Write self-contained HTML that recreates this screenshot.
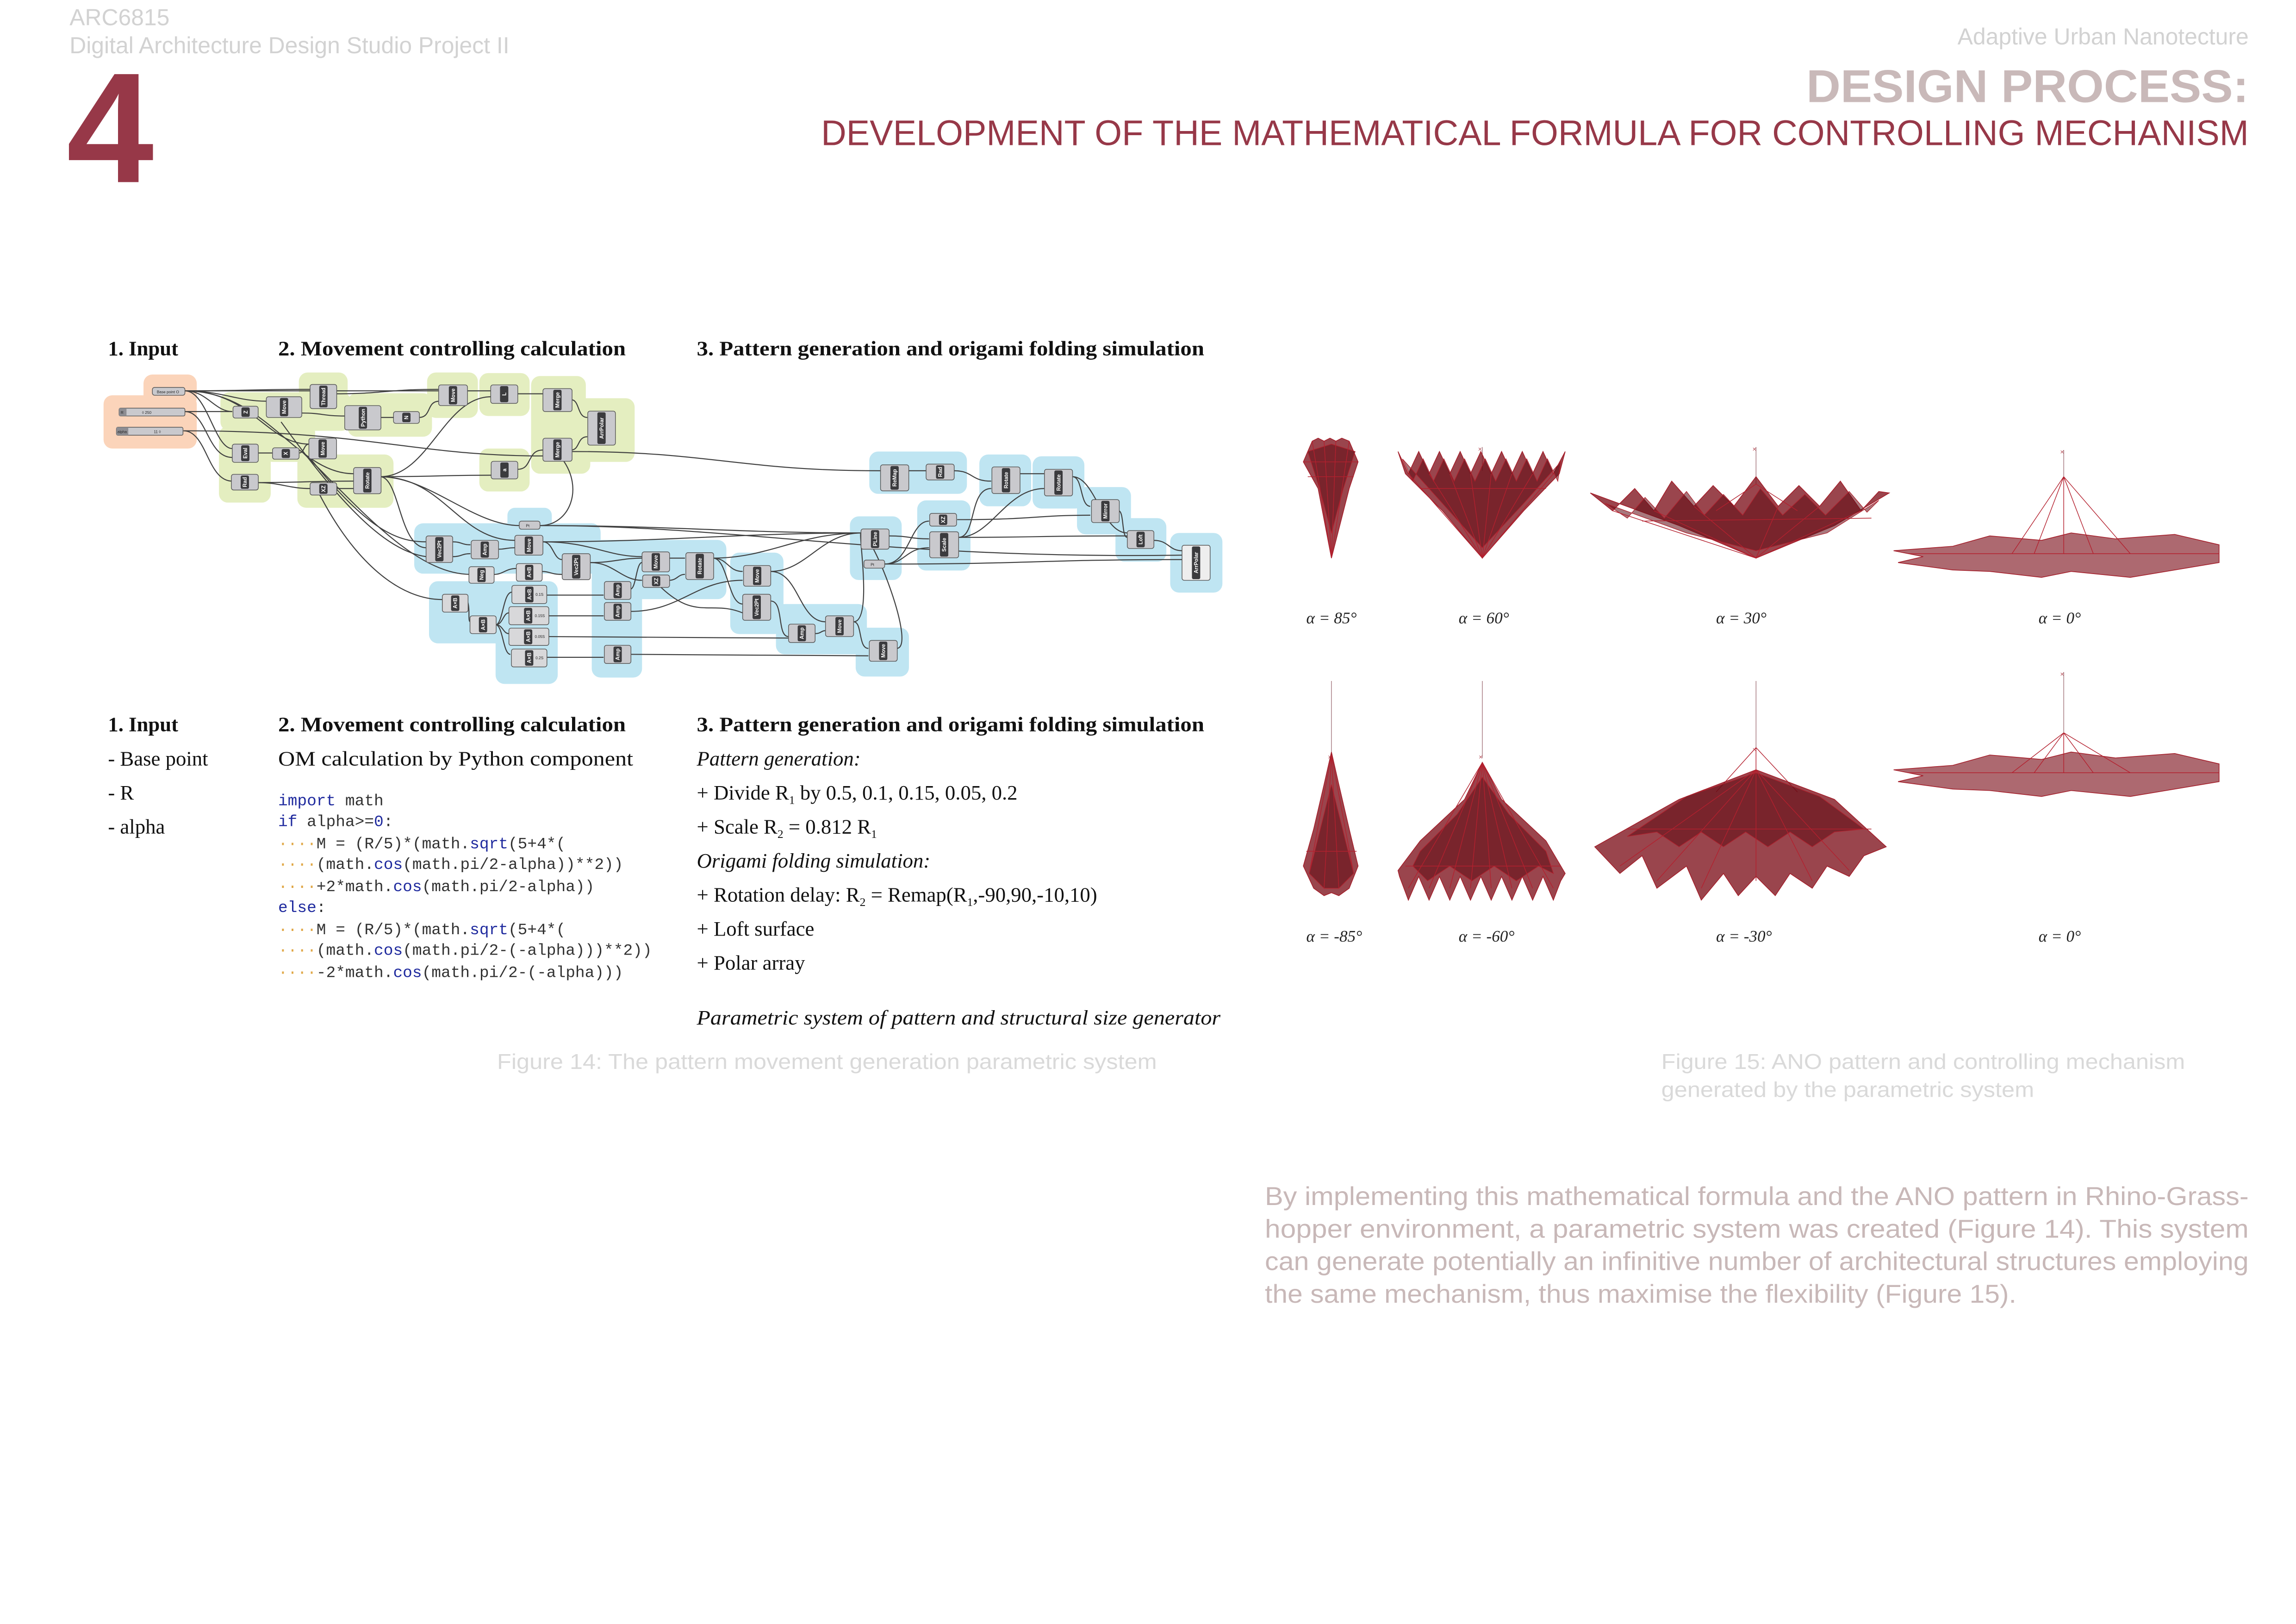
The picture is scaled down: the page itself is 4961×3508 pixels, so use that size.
<!DOCTYPE html>
<html><head><meta charset="utf-8"><style>
html,body{margin:0;padding:0;background:#fff;}
svg{display:block;}
.hd{font-family:"Liberation Sans",sans-serif;fill:#d2d2d2;font-size:15.6px;}
.sr{font-family:"Liberation Serif",serif;fill:#111;font-size:14px;}
.b{font-weight:bold;}
.it{font-style:italic;}
.cd{font-family:"Liberation Mono",monospace;font-size:10.8px;fill:#333;}
.kw{fill:#1f2a9e;}
.dt{fill:#e0a848;}
.cap{font-family:"Liberation Sans",sans-serif;fill:#d9d9d9;font-size:14.5px;}
.par{font-family:"Liberation Sans",sans-serif;fill:#c8b8b8;font-size:17.5px;}
.al{font-family:"Liberation Serif",serif;font-style:italic;font-size:11px;fill:#222;}
.gb{fill:#e4eec0;}
.bb{fill:#bfe5f2;}
.ob{fill:#fbd4ba;}
.n{fill:#c9c9cd;stroke:#555;stroke-width:.45;}
.s{fill:#3b3b3e;}
.nt{font-family:"Liberation Sans",sans-serif;font-size:3.6px;font-weight:bold;fill:#fff;text-anchor:middle;}
.pt{font-family:"Liberation Sans",sans-serif;font-size:2.6px;fill:#222;}
.w path{fill:none;stroke:#404040;stroke-width:.7;}
.rd{fill:#7e111b;fill-opacity:.78;stroke:#a41e2a;stroke-width:.5;}
.rd2{fill:#5e0a12;fill-opacity:.55;stroke:#b0202c;stroke-width:.4;}
.rl{stroke:#b3202e;stroke-width:.45;fill:none;}
.st{stroke:#8a5058;stroke-width:.35;}
</style></head><body>
<svg width="4961" height="3508" viewBox="0 0 1552 1097" preserveAspectRatio="none" xmlns="http://www.w3.org/2000/svg">
<defs><linearGradient id="ng" x1="0" y1="0" x2="0" y2="1"><stop offset="0" stop-color="#e2e2e5"/><stop offset="1" stop-color="#a9a9ae"/></linearGradient></defs>

<!-- header -->
<text class="hd" x="47" y="17">ARC6815</text>
<text class="hd" x="47" y="36">Digital Architecture Design Studio Project II</text>
<text x="45" y="123" style="font-family:'Liberation Sans',sans-serif;font-weight:bold;font-size:106px;fill:#973848">4</text>
<text class="hd" x="1520" y="30" text-anchor="end">Adaptive Urban Nanotecture</text>
<text x="1520" y="69" text-anchor="end" textLength="299" lengthAdjust="spacingAndGlyphs" style="font-family:'Liberation Sans',sans-serif;font-weight:bold;font-size:31px;fill:#c9b9b9">DESIGN PROCESS:</text>
<text x="1520" y="98" text-anchor="end" textLength="965" lengthAdjust="spacingAndGlyphs" style="font-family:'Liberation Sans',sans-serif;font-size:24px;fill:#973848">DEVELOPMENT OF THE MATHEMATICAL FORMULA FOR CONTROLLING MECHANISM</text>

<!-- section headers -->
<text class="sr b" x="73" y="240">1. Input</text>
<text class="sr b" x="188" y="240" textLength="235" lengthAdjust="spacingAndGlyphs">2. Movement controlling calculation</text>
<text class="sr b" x="471" y="240" textLength="343" lengthAdjust="spacingAndGlyphs">3. Pattern generation and origami folding simulation</text>

<!-- blobs -->
<g>
<rect class="ob" x="97" y="253" width="36" height="22" rx="6"/>
<rect class="ob" x="70" y="267" width="63" height="36" rx="6"/>
<rect class="gb" x="149" y="265" width="88" height="26" rx="6"/>
<rect class="gb" x="202" y="251.6" width="33" height="18" rx="6"/>
<rect class="gb" x="148" y="288" width="35" height="51.5" rx="6"/>
<rect class="gb" x="201" y="307" width="65" height="36" rx="6"/>
<rect class="gb" x="235" y="265.6" width="57" height="29.4" rx="6"/>
<rect class="gb" x="180" y="288" width="33" height="24" rx="4"/>
<rect class="gb" x="288.7" y="251.6" width="34.3" height="30.7" rx="6"/>
<rect class="gb" x="324" y="252" width="34" height="29" rx="6"/>
<rect class="gb" x="359" y="254" width="37" height="32.5" rx="6"/>
<rect class="gb" x="359" y="269" width="70" height="43" rx="6"/>
<rect class="gb" x="359" y="288" width="40" height="32" rx="6"/>
<rect class="gb" x="324" y="303" width="34" height="29" rx="6"/>
<rect class="bb" x="343" y="343" width="30" height="15" rx="5"/>
<rect class="bb" x="280" y="353.5" width="126" height="34" rx="6"/>
<rect class="bb" x="290" y="392.6" width="87" height="42" rx="6"/>
<rect class="bb" x="335" y="420" width="42" height="42" rx="6"/>
<rect class="bb" x="400" y="364.7" width="34" height="93" rx="6"/>
<rect class="bb" x="426" y="364.7" width="65" height="40" rx="6"/>
<rect class="bb" x="493.6" y="373.3" width="36" height="55" rx="6"/>
<rect class="bb" x="524.5" y="408" width="61.5" height="34" rx="6"/>
<rect class="bb" x="578.4" y="424" width="36" height="33" rx="6"/>
<rect class="bb" x="574.5" y="348.8" width="35" height="43" rx="6"/>
<rect class="bb" x="587.6" y="305" width="66" height="28.6" rx="6"/>
<rect class="bb" x="620" y="338" width="36" height="47.4" rx="6"/>
<rect class="bb" x="662" y="307" width="35" height="35" rx="6"/>
<rect class="bb" x="698" y="308.2" width="35" height="35.3" rx="6"/>
<rect class="bb" x="728" y="329" width="36.5" height="32" rx="6"/>
<rect class="bb" x="754" y="350" width="34.4" height="29.4" rx="6"/>
<rect class="bb" x="791" y="360" width="35.3" height="40.3" rx="6"/>
</g>

<!-- wires -->
<g class="w">
<path d="M125 264 C170 264 170 263 210 263"/>
<path d="M125 264 C220 264 220 264 297 264"/>
<path d="M125 264 C150 264 160 271 180 271"/>
<path d="M125 264 C140 264 145 278 157 278"/>
<path d="M125 264 C140 264 145 303 157 303"/>
<path d="M125 264 C170 264 180 300 209 300"/>
<path d="M125 264 C180 264 200 320 239 320"/>
<path d="M125 278 C140 278 145 278 157 278"/>
<path d="M125 278 C140 278 140 309 157 309"/>
<path d="M124 291 C250 291 280 308 367 308"/>
<path d="M124 291 C140 291 140 325 157 325"/>
<path d="M386 305 C480 305 500 318 595 318"/>
<path d="M204 279 C218 279 218 281 233 281"/>
<path d="M257 282 C262 282 262 282 266 282"/>
<path d="M283 282 C292 282 288 271 297 271"/>
<path d="M227 266 C260 266 260 263 297 263"/>
<path d="M316 264 C324 264 324 264 332 264"/>
<path d="M350 266 C358 266 358 266 367 266"/>
<path d="M386 270 C392 270 390 282 397 282"/>
<path d="M386 304 C392 304 390 295 397 295"/>
<path d="M350 317 C360 317 356 304 367 304"/>
<path d="M257 322 C290 322 300 321 332 321"/>
<path d="M257 322 C290 322 300 268 332 268"/>
<path d="M257 322 C270 322 270 370 288 370"/>
<path d="M257 322 C300 322 310 365 348 365"/>
<path d="M257 322 C290 322 320 355 351 355"/>
<path d="M174 326 C190 326 195 330 210 330"/>
<path d="M174 326 C200 326 210 325 239 325"/>
<path d="M227 330 C233 330 233 330 239 330"/>
<path d="M202 306 C206 306 205 300 209 300"/>
<path d="M174 306 C179 306 179 306 184 306"/>
<path d="M216 334 C240 380 270 405 299 405"/>
<path d="M205 306 C240 340 280 388 318 388"/>
<path d="M190 285 C230 340 260 372 288 376"/>
<path d="M210 310 C250 360 270 366 288 366"/>
<path d="M380 310 C395 330 385 355 365 355"/>
<path d="M365 355 C450 355 500 360 582 360"/>
<path d="M365 355 C500 355 600 378 800 375"/>
<path d="M306 366 C312 366 312 368 318 368"/>
<path d="M306 376 C312 376 312 374 318 374"/>
<path d="M337 371 C342 371 342 370 348 370"/>
<path d="M367 366 C374 366 374 378 380 378"/>
<path d="M367 366 C400 366 410 376 434 376"/>
<path d="M367 366 C450 366 500 360 582 360"/>
<path d="M334 388 C340 388 342 384 349 384"/>
<path d="M366 386 C372 386 372 388 380 388"/>
<path d="M316 406 C318 412 316 420 318 420"/>
<path d="M335 422 C340 422 340 400 346 400"/>
<path d="M335 422 C340 422 340 414 344 414"/>
<path d="M335 422 C340 422 340 428 344 428"/>
<path d="M335 422 C340 422 340 442 345 442"/>
<path d="M369 402 C390 402 390 402 408 402"/>
<path d="M371 416 C390 416 390 416 408 416"/>
<path d="M371 430 C450 430 480 431 533 431"/>
<path d="M369 444 C390 444 390 444 408 444"/>
<path d="M399 380 C415 380 420 377 434 377"/>
<path d="M399 380 C415 380 420 392 434 392"/>
<path d="M426 398 C430 398 430 380 434 380"/>
<path d="M426 413 C460 413 470 392 502 392"/>
<path d="M426 442 C500 442 520 443 587 443"/>
<path d="M452 377 C458 377 458 377 463 377"/>
<path d="M452 392 C458 392 458 388 463 388"/>
<path d="M482 377 C492 377 492 386 502 386"/>
<path d="M482 377 C520 377 540 360 582 360"/>
<path d="M482 377 C492 377 492 408 502 408"/>
<path d="M445 395 C470 420 480 405 502 414"/>
<path d="M521 386 C540 386 540 420 558 420"/>
<path d="M521 386 C545 386 555 360 582 360"/>
<path d="M521 406 C530 406 525 430 533 430"/>
<path d="M551 428 C555 428 555 426 558 426"/>
<path d="M577 420 C583 420 580 438 587 438"/>
<path d="M577 420 C590 420 580 360 582 360"/>
<path d="M606 438 C620 438 590 360 582 360"/>
<path d="M601 362 C615 362 615 364 628 364"/>
<path d="M598 381 C612 381 612 370 628 370"/>
<path d="M598 381 C615 381 615 352 628 352"/>
<path d="M598 381 C700 381 700 378 800 378"/>
<path d="M614 318 C620 318 620 318 626 318"/>
<path d="M645 318 C658 318 656 325 670 325"/>
<path d="M647 351 C700 351 700 348 737 348"/>
<path d="M689 320 C698 320 698 320 706 320"/>
<path d="M648 363 C670 363 680 330 706 330"/>
<path d="M648 363 C660 363 655 330 670 330"/>
<path d="M725 322 C732 322 730 342 737 342"/>
<path d="M648 363 C700 363 700 362 762 362"/>
<path d="M756 345 C760 345 758 363 762 363"/>
<path d="M725 322 C740 322 745 360 762 360"/>
<path d="M780 365 C790 365 790 372 799 372"/>
</g>

<!-- sliders -->
<g>
<rect class="n" x="103" y="261.7" width="22" height="5.3" rx="1.5" fill="url(#ng)"/><text class="pt" x="106" y="265.6">Base point O</text>
<rect class="n" x="80.5" y="275.7" width="44.5" height="5.3" rx="1"/><rect x="80.5" y="275.7" width="5" height="5.3" fill="#8d8d92"/><text class="pt" x="81.6" y="279.6">R</text><text class="pt" x="96" y="279.6">◊ 250</text>
<rect class="n" x="78.7" y="288.6" width="45" height="5.4" rx="1"/><rect x="78.7" y="288.6" width="8" height="5.4" fill="#8d8d92"/><text class="pt" x="79.4" y="292.5">alpha</text><text class="pt" x="104" y="292.5">11 ◊</text>
</g>

<!-- nodes -->
<g>
<rect class="n" x="209.6" y="259.7" width="18" height="16.3" rx="1.5"/><rect class="s" x="215.8" y="260.5" width="5.6" height="14.7" rx="1"/><text class="nt" transform="translate(219.9,267.9) rotate(-90)">Thread</text>
<rect class="n" x="157.5" y="274.4" width="17" height="8" rx="1.5"/><rect class="s" x="163.2" y="275.2" width="5.6" height="6.4" rx="1"/><text class="nt" transform="translate(167.3,278.4) rotate(-90)">Z</text>
<rect class="n" x="180" y="268" width="24" height="14" rx="1.5"/><rect class="s" x="189.2" y="268.8" width="5.6" height="12.4" rx="1"/><text class="nt" transform="translate(193.3,275) rotate(-90)">Move</text>
<rect class="n" x="233" y="274" width="24.5" height="16.4" rx="1.5"/><rect class="s" x="242.5" y="274.8" width="5.6" height="14.8" rx="1"/><text class="nt" transform="translate(246.6,282.2) rotate(-90)">Python</text>
<rect class="n" x="266" y="278" width="17.5" height="8" rx="1.5"/><rect class="s" x="271.9" y="278.8" width="5.6" height="6.4" rx="1"/><text class="nt" transform="translate(276,282) rotate(-90)">N</text>
<rect class="n" x="296.5" y="260" width="19.5" height="14" rx="1.5"/><rect class="s" x="303.4" y="260.8" width="5.6" height="12.4" rx="1"/><text class="nt" transform="translate(307.5,267) rotate(-90)">Move</text>
<rect class="n" x="331.7" y="260" width="18.3" height="12.5" rx="1.5"/><rect class="s" x="338" y="260.8" width="5.6" height="10.9" rx="1"/><text class="nt" transform="translate(342.1,266.2) rotate(-90)">L</text>
<rect class="n" x="367" y="262.5" width="19.7" height="15.5" rx="1.5"/><rect class="s" x="374" y="263.3" width="5.6" height="13.9" rx="1"/><text class="nt" transform="translate(378.1,270.2) rotate(-90)">Merge</text>
<rect class="n" x="367" y="296" width="19.7" height="15.6" rx="1.5"/><rect class="s" x="374" y="296.8" width="5.6" height="14" rx="1"/><text class="nt" transform="translate(378.1,303.8) rotate(-90)">Merge</text>
<rect class="n" x="397.3" y="277.7" width="18.7" height="23" rx="1.5"/><rect class="s" x="403.8" y="278.5" width="5.6" height="21.4" rx="1"/><text class="nt" transform="translate(407.9,289.2) rotate(-90)">ArrPolar</text>
<rect class="n" x="157" y="300" width="17.6" height="12.3" rx="1.5"/><rect class="s" x="163" y="300.8" width="5.6" height="10.7" rx="1"/><text class="nt" transform="translate(167.1,306.1) rotate(-90)">Eval</text>
<rect class="n" x="184.2" y="302.5" width="18" height="7.7" rx="1.5"/><rect class="s" x="190.4" y="303.3" width="5.6" height="6.1" rx="1"/><text class="nt" transform="translate(194.5,306.3) rotate(-90)">X</text>
<rect class="n" x="208.8" y="296" width="18.7" height="14" rx="1.5"/><rect class="s" x="215.3" y="296.8" width="5.6" height="12.4" rx="1"/><text class="nt" transform="translate(219.4,303) rotate(-90)">Move</text>
<rect class="n" x="156.4" y="320.4" width="18.2" height="10.6" rx="1.5"/><rect class="s" x="162.7" y="321.2" width="5.6" height="9" rx="1"/><text class="nt" transform="translate(166.8,325.7) rotate(-90)">Rad</text>
<rect class="n" x="209.6" y="326" width="18" height="8.4" rx="1.5"/><rect class="s" x="215.8" y="326.8" width="5.6" height="6.8" rx="1"/><text class="nt" transform="translate(219.9,330.2) rotate(-90)">XZ</text>
<rect class="n" x="239" y="315.8" width="18.6" height="17.7" rx="1.5"/><rect class="s" x="245.5" y="316.6" width="5.6" height="16.1" rx="1"/><text class="nt" transform="translate(249.6,324.6) rotate(-90)">Rotate</text>
<rect class="n" x="332" y="311.6" width="18" height="11.9" rx="1.5"/><rect class="s" x="338.2" y="312.4" width="5.6" height="10.3" rx="1"/><text class="nt" transform="translate(342.3,317.5) rotate(-90)">a</text>

<rect class="n" x="351" y="352" width="14" height="5.5" rx="1.5"/><text class="pt" x="355.5" y="356">Pt</text>
<rect class="n" x="288" y="362" width="18" height="18" rx="1.5"/><rect class="s" x="294.2" y="362.8" width="5.6" height="16.4" rx="1"/><text class="nt" transform="translate(298.3,371) rotate(-90)">Vec2Pt</text>
<rect class="n" x="318.5" y="365" width="18.5" height="12.5" rx="1.5"/><rect class="s" x="324.9" y="365.8" width="5.6" height="10.9" rx="1"/><text class="nt" transform="translate(329,371.2) rotate(-90)">Amp</text>
<rect class="n" x="348" y="361.6" width="19" height="13.4" rx="1.5"/><rect class="s" x="354.7" y="362.4" width="5.6" height="11.8" rx="1"/><text class="nt" transform="translate(358.8,368.3) rotate(-90)">Move</text>
<rect class="n" x="380" y="374" width="19" height="17.6" rx="1.5"/><rect class="s" x="386.7" y="374.8" width="5.6" height="16" rx="1"/><text class="nt" transform="translate(390.8,382.8) rotate(-90)">Vec2Pt</text>
<rect class="n" x="317" y="382.8" width="17" height="11.2" rx="1.5" style="fill:#d8d8da"/><rect class="s" x="322.7" y="383.6" width="5.6" height="9.6" rx="1"/><text class="nt" transform="translate(326.8,388.4) rotate(-90)">Neg</text>
<rect class="n" x="349" y="380.7" width="17.5" height="11.9" rx="1.5" style="fill:#d8d8da"/><rect class="s" x="354.9" y="381.5" width="5.6" height="10.3" rx="1"/><text class="nt" transform="translate(359,386.6) rotate(-90)">A×B</text>
<rect class="n" x="299" y="401.4" width="17.4" height="12.1" rx="1.5" style="fill:#d8d8da"/><rect class="s" x="304.9" y="402.2" width="5.6" height="10.5" rx="1"/><text class="nt" transform="translate(309,407.4) rotate(-90)">A×B</text>
<rect class="n" x="317.7" y="416" width="17.7" height="12" rx="1.5" style="fill:#d8d8da"/><rect class="s" x="323.7" y="416.8" width="5.6" height="10.4" rx="1"/><text class="nt" transform="translate(327.8,422) rotate(-90)">A×B</text>
<rect class="n" x="346" y="395.4" width="23.6" height="12.3" rx="1.5" style="fill:#d8d8da"/><rect class="s" x="355" y="396.2" width="5.6" height="10.7" rx="1"/><text class="nt" transform="translate(359.1,401.5) rotate(-90)">A×B</text><text class="pt" x="362" y="402.5">0.1S</text>
<rect class="n" x="344" y="409.8" width="27" height="12.2" rx="1.5" style="fill:#d8d8da"/><rect class="s" x="354.2" y="410.6" width="5.6" height="10.6" rx="1"/><text class="nt" transform="translate(358.3,415.9) rotate(-90)">A×B</text><text class="pt" x="361.5" y="416.8">0.15S</text>
<rect class="n" x="344" y="424.3" width="27" height="11.7" rx="1.5" style="fill:#d8d8da"/><rect class="s" x="354.2" y="425.1" width="5.6" height="10.1" rx="1"/><text class="nt" transform="translate(358.3,430.1) rotate(-90)">A×B</text><text class="pt" x="361.5" y="431">0.05S</text>
<rect class="n" x="345.7" y="438.4" width="24" height="12.1" rx="1.5" style="fill:#d8d8da"/><rect class="s" x="354.9" y="439.2" width="5.6" height="10.5" rx="1"/><text class="nt" transform="translate(359,444.4) rotate(-90)">A×B</text><text class="pt" x="362" y="445.3">0.2S</text>
<rect class="n" x="408.5" y="392.8" width="18" height="12.1" rx="1.5"/><rect class="s" x="414.7" y="393.6" width="5.6" height="10.5" rx="1"/><text class="nt" transform="translate(418.8,398.8) rotate(-90)">Amp</text>
<rect class="n" x="408.5" y="407" width="18" height="12" rx="1.5"/><rect class="s" x="414.7" y="407.8" width="5.6" height="10.4" rx="1"/><text class="nt" transform="translate(418.8,413) rotate(-90)">Amp</text>
<rect class="n" x="408.5" y="435.9" width="18" height="12.3" rx="1.5"/><rect class="s" x="414.7" y="436.7" width="5.6" height="10.7" rx="1"/><text class="nt" transform="translate(418.8,442) rotate(-90)">Amp</text>
<rect class="n" x="434" y="372.8" width="18.6" height="13.5" rx="1.5"/><rect class="s" x="440.5" y="373.6" width="5.6" height="11.9" rx="1"/><text class="nt" transform="translate(444.6,379.5) rotate(-90)">Move</text>
<rect class="n" x="434.4" y="388.4" width="18.2" height="8.4" rx="1.5"/><rect class="s" x="440.7" y="389.2" width="5.6" height="6.8" rx="1"/><text class="nt" transform="translate(444.8,392.6) rotate(-90)">XZ</text>
<rect class="n" x="463.6" y="373.3" width="18.8" height="18.2" rx="1.5"/><rect class="s" x="470.2" y="374.1" width="5.6" height="16.6" rx="1"/><text class="nt" transform="translate(474.3,382.4) rotate(-90)">Rotate</text>
<rect class="n" x="502.6" y="382" width="18.4" height="14" rx="1.5"/><rect class="s" x="509" y="382.8" width="5.6" height="12.4" rx="1"/><text class="nt" transform="translate(513.1,389) rotate(-90)">Move</text>
<rect class="n" x="502" y="401.4" width="19" height="17.6" rx="1.5"/><rect class="s" x="508.7" y="402.2" width="5.6" height="16" rx="1"/><text class="nt" transform="translate(512.8,410.2) rotate(-90)">Vec2Pt</text>
<rect class="n" x="533" y="421.6" width="18" height="12.4" rx="1.5"/><rect class="s" x="539.2" y="422.4" width="5.6" height="10.8" rx="1"/><text class="nt" transform="translate(543.3,427.8) rotate(-90)">Amp</text>
<rect class="n" x="558" y="416" width="19" height="14" rx="1.5"/><rect class="s" x="564.7" y="416.8" width="5.6" height="12.4" rx="1"/><text class="nt" transform="translate(568.8,423) rotate(-90)">Move</text>
<rect class="n" x="587.6" y="432.6" width="18.9" height="14.1" rx="1.5"/><rect class="s" x="594.2" y="433.4" width="5.6" height="12.5" rx="1"/><text class="nt" transform="translate(598.3,439.6) rotate(-90)">Move</text>
<rect class="n" x="582" y="357.3" width="19" height="13.7" rx="1.5"/><rect class="s" x="588.7" y="358.1" width="5.6" height="12.1" rx="1"/><text class="nt" transform="translate(592.8,364.1) rotate(-90)">PLine</text>
<rect class="n" x="584" y="378.3" width="14" height="5.5" rx="1.5"/><text class="pt" x="588.5" y="382.3">Pt</text>
<rect class="n" x="628.4" y="346.8" width="18.2" height="8.6" rx="1.5"/><rect class="s" x="634.7" y="347.6" width="5.6" height="7" rx="1"/><text class="nt" transform="translate(638.8,351.1) rotate(-90)">XZ</text>
<rect class="n" x="628.4" y="359.2" width="19.6" height="17.6" rx="1.5"/><rect class="s" x="635.4" y="360" width="5.6" height="16" rx="1"/><text class="nt" transform="translate(639.5,368) rotate(-90)">Scale</text>
<rect class="n" x="595.2" y="314" width="19.1" height="17.6" rx="1.5"/><rect class="s" x="601.9" y="314.8" width="5.6" height="16" rx="1"/><text class="nt" transform="translate(606,322.8) rotate(-90)">ReMap</text>
<rect class="n" x="626" y="313.5" width="19" height="10.7" rx="1.5"/><rect class="s" x="632.7" y="314.3" width="5.6" height="9.1" rx="1"/><text class="nt" transform="translate(636.8,318.8) rotate(-90)">Rad</text>
<rect class="n" x="670.5" y="315.4" width="19" height="18" rx="1.5"/><rect class="s" x="677.2" y="316.2" width="5.6" height="16.4" rx="1"/><text class="nt" transform="translate(681.3,324.4) rotate(-90)">Rotate</text>
<rect class="n" x="706" y="317" width="19" height="18" rx="1.5"/><rect class="s" x="712.7" y="317.8" width="5.6" height="16.4" rx="1"/><text class="nt" transform="translate(716.8,326) rotate(-90)">Rotate</text>
<rect class="n" x="737.8" y="337.5" width="18.8" height="15.5" rx="1.5"/><rect class="s" x="744.4" y="338.3" width="5.6" height="13.9" rx="1"/><text class="nt" transform="translate(748.5,345.2) rotate(-90)">Mirror</text>
<rect class="n" x="762" y="358.4" width="18" height="12.1" rx="1.5"/><rect class="s" x="768.2" y="359.2" width="5.6" height="10.5" rx="1"/><text class="nt" transform="translate(772.3,364.4) rotate(-90)">Loft</text>
<rect class="n" x="799" y="368.3" width="19" height="23.7" rx="1.5" style="fill:#eeeeee"/><rect class="s" x="805.7" y="369.1" width="5.6" height="22.1" rx="1"/><text class="nt" transform="translate(809.8,380.1) rotate(-90)">ArrPolar</text>
</g>

<!-- lower text -->
<text class="sr b" x="73" y="494">1. Input</text>
<text class="sr b" x="188" y="494" textLength="235" lengthAdjust="spacingAndGlyphs">2. Movement controlling calculation</text>
<text class="sr b" x="471" y="494" textLength="343" lengthAdjust="spacingAndGlyphs">3. Pattern generation and origami folding simulation</text>
<text class="sr" x="73" y="517">- Base point</text>
<text class="sr" x="73" y="540">- R</text>
<text class="sr" x="73" y="563">- alpha</text>
<text class="sr" x="188" y="517" textLength="240" lengthAdjust="spacingAndGlyphs">OM calculation by Python component</text>

<text class="cd" x="188" y="544"><tspan class="kw">import</tspan> math</text>
<text class="cd" x="188" y="558"><tspan class="kw">if</tspan> alpha&gt;=<tspan class="kw">0</tspan>:</text>
<text class="cd" x="188" y="573"><tspan class="dt">····</tspan>M = (R/5)*(math.<tspan class="kw">sqrt</tspan>(5+4*(</text>
<text class="cd" x="188" y="587"><tspan class="dt">····</tspan>(math.<tspan class="kw">cos</tspan>(math.pi/2-alpha))**2))</text>
<text class="cd" x="188" y="602"><tspan class="dt">····</tspan>+2*math.<tspan class="kw">cos</tspan>(math.pi/2-alpha))</text>
<text class="cd" x="188" y="616"><tspan class="kw">else</tspan>:</text>
<text class="cd" x="188" y="631"><tspan class="dt">····</tspan>M = (R/5)*(math.<tspan class="kw">sqrt</tspan>(5+4*(</text>
<text class="cd" x="188" y="645"><tspan class="dt">····</tspan>(math.<tspan class="kw">cos</tspan>(math.pi/2-(-alpha)))**2))</text>
<text class="cd" x="188" y="660"><tspan class="dt">····</tspan>-2*math.<tspan class="kw">cos</tspan>(math.pi/2-(-alpha)))</text>

<text class="sr it" x="471" y="517">Pattern generation:</text>
<text class="sr" x="471" y="540">+ Divide R<tspan font-size="8" dy="3">1</tspan><tspan dy="-3"> by 0.5, 0.1, 0.15, 0.05, 0.2</tspan></text>
<text class="sr" x="471" y="563">+ Scale R<tspan font-size="8" dy="3">2</tspan><tspan dy="-3"> = 0.812 R</tspan><tspan font-size="8" dy="3">1</tspan></text>
<text class="sr it" x="471" y="586">Origami folding simulation:</text>
<text class="sr" x="471" y="609">+ Rotation delay: R<tspan font-size="8" dy="3">2</tspan><tspan dy="-3"> = Remap(R</tspan><tspan font-size="8" dy="3">1</tspan><tspan dy="-3">,-90,90,-10,10)</tspan></text>
<text class="sr" x="471" y="632">+ Loft surface</text>
<text class="sr" x="471" y="655">+ Polar array</text>
<text class="sr it" x="471" y="692" textLength="354" lengthAdjust="spacingAndGlyphs">Parametric system of pattern and structural size generator</text>

<text class="cap" x="336" y="722" textLength="446" lengthAdjust="spacingAndGlyphs">Figure 14: The pattern movement generation parametric system</text>
<text class="cap" x="1123" y="722" textLength="354" lengthAdjust="spacingAndGlyphs">Figure 15: ANO pattern and controlling mechanism</text>
<text class="cap" x="1123" y="741" textLength="252" lengthAdjust="spacingAndGlyphs">generated by the parametric system</text>

<text class="par" x="855" y="814" textLength="665" lengthAdjust="spacingAndGlyphs">By implementing this mathematical formula and the ANO pattern in Rhino-Grass-</text>
<text class="par" x="855" y="836" textLength="665" lengthAdjust="spacingAndGlyphs">hopper environment, a parametric system was created (Figure 14). This system</text>
<text class="par" x="855" y="858" textLength="665" lengthAdjust="spacingAndGlyphs">can generate potentially an infinitive number of architectural structures employing</text>
<text class="par" x="855" y="880" textLength="508" lengthAdjust="spacingAndGlyphs">the same mechanism, thus maximise the flexibility (Figure 15).</text>

<!-- renders top -->
<g>
<polygon class="rd" points="887,298 891,296 895,298 899,296 903,298 907,296 912,298 918,312 912,330 900,377 891,330 881,312"/>
<polygon class="rd2" points="884,305 900,300 916,305 908,330 900,360 892,330"/>
<path class="rl" d="M887,298 L900,377 L912,298 M895,298 L900,377 L903,298 M881,312 L918,312 M884,322 L915,322"/>

<line class="st" x1="1002" y1="302" x2="1002" y2="318"/>
<polygon class="rd" points="945,305 952,320 959,305 966,320 973,305 980,320 987,305 994,320 1001,305 1008,320 1015,305 1022,320 1029,305 1036,320 1043,305 1050,320 1058,305 1054,320 1030,345 1002,377 975,345 950,320"/>
<polygon class="rd2" points="948,310 955,325 962,310 969,325 976,310 983,325 990,310 997,325 1004,310 1011,325 1018,310 1025,325 1032,310 1039,325 1046,310 1053,325 1055,312 1030,340 1002,370 975,340"/>
<path class="rl" d="M952,320 L1002,377 L1050,320 M966,320 L1002,377 L1036,320 M980,320 L1002,377 L1022,320 M994,320 L1002,377 L1008,320 M960,330 L1045,330"/>
<text x="999" y="305" style="font-size:5px;fill:#a01c28">×</text>

<line class="st" x1="1187" y1="302" x2="1187" y2="327"/>
<text x="1184.5" y="305" style="font-size:5px;fill:#a01c28">×</text>
<polygon class="rd" points="1075,333 1090,345 1105,330 1118,345 1130,325 1145,342 1158,328 1172,342 1187,322 1202,342 1216,328 1230,342 1244,325 1258,345 1270,332 1277,333 1240,355 1187,377 1135,355"/>
<polygon class="rd2" points="1085,340 1100,350 1112,336 1125,350 1140,332 1152,348 1165,334 1178,348 1190,330 1205,348 1220,334 1234,348 1250,332 1262,346 1270,338 1235,360 1187,372 1140,360"/>
<path class="rl" d="M1187,327 L1160,345 M1187,327 L1215,345 M1090,345 L1187,377 L1258,345 M1118,345 L1187,377 L1230,342 M1145,342 L1187,377 L1202,342 M1110,352 L1265,350"/>

<line class="st" x1="1395" y1="304" x2="1395" y2="322"/>
<text x="1392.5" y="307" style="font-size:5px;fill:#a01c28">×</text>
<polygon class="rd" points="1280,372 1320,369 1345,362 1380,365 1400,360 1430,364 1470,361 1500,368 1500,380 1470,385 1440,390 1400,386 1380,390 1345,386 1320,385 1283,380 1300,376" style="fill:#8a2a33;fill-opacity:.7"/>
<path class="rl" d="M1395,322 L1360,374 M1395,322 L1375,374 M1395,322 L1415,374 M1395,322 L1440,374 M1395,322 L1395,374 M1290,374 L1500,374"/>
</g>
<text class="al" x="883" y="421">α = 85°</text>
<text class="al" x="986" y="421">α = 60°</text>
<text class="al" x="1160" y="421">α = 30°</text>
<text class="al" x="1378" y="421">α = 0°</text>

<!-- renders bottom -->
<g>
<line class="st" x1="900" y1="460" x2="900" y2="510"/>
<text x="897.5" y="513" style="font-size:5px;fill:#a01c28">×</text>
<polygon class="rd" points="900,508 905,530 912,560 918,585 912,600 905,605 900,603 895,605 888,600 881,585 888,560 895,530"/>
<polygon class="rd2" points="900,530 910,570 915,590 905,600 895,600 885,590 890,570"/>
<path class="rl" d="M900,510 L885,590 M900,510 L895,600 M900,510 L905,600 M900,510 L915,590 M883,575 L917,575"/>

<line class="st" x1="1002" y1="460" x2="1002" y2="512"/>
<text x="999.5" y="513" style="font-size:5px;fill:#a01c28">×</text>
<polygon class="rd" points="1002,515 1015,540 1045,568 1058,590 1055,595 1050,608 1043,592 1036,608 1029,592 1022,608 1015,592 1008,608 1001,592 994,608 987,592 980,608 973,592 966,608 959,592 952,608 946,592 945,588 960,568 990,540"/>
<polygon class="rd2" points="1002,525 1020,550 1045,575 1050,590 1040,585 1025,595 1010,585 995,595 980,585 965,595 955,585 960,575 985,550"/>
<path class="rl" d="M1002,515 L952,600 M1002,515 L966,600 M1002,515 L980,600 M1002,515 L994,600 M1002,515 L1008,600 M1002,515 L1022,600 M1002,515 L1036,600 M1002,515 L1050,600 M950,585 L1055,585"/>

<line class="st" x1="1187" y1="460" x2="1187" y2="505"/>
<text x="1184.5" y="508" style="font-size:5px;fill:#a01c28">×</text>
<path class="rl" d="M1187,505 L1160,535 M1187,505 L1215,535 M1187,505 L1187,520"/>
<polygon class="rd" points="1187,520 1240,540 1275,572 1260,578 1250,592 1235,585 1225,600 1210,590 1200,605 1187,592 1175,605 1165,590 1150,608 1140,585 1120,600 1110,578 1095,590 1078,572 1135,540"/>
<polygon class="rd2" points="1187,522 1230,538 1260,560 1240,562 1225,572 1210,562 1195,572 1180,562 1165,572 1150,562 1135,572 1120,562 1100,565 1140,538"/>
<path class="rl" d="M1187,520 L1095,585 M1187,520 L1120,595 M1187,520 L1150,600 M1187,520 L1187,595 M1187,520 L1225,595 M1187,520 L1250,588 M1100,560 L1265,560"/>

<line class="st" x1="1395" y1="454" x2="1395" y2="495"/>
<text x="1392.5" y="457" style="font-size:5px;fill:#a01c28">×</text>
<polygon class="rd" points="1280,520 1320,517 1345,510 1380,513 1400,508 1430,512 1470,509 1500,516 1500,528 1470,533 1440,538 1400,534 1380,538 1345,534 1320,533 1283,528 1300,524" style="fill:#8a2a33;fill-opacity:.7"/>
<path class="rl" d="M1395,495 L1360,522 M1395,495 L1375,522 M1395,495 L1415,522 M1395,495 L1440,522 M1395,495 L1395,522 M1290,522 L1500,522"/>
</g>
<text class="al" x="883" y="636">α = -85°</text>
<text class="al" x="986" y="636">α = -60°</text>
<text class="al" x="1160" y="636">α = -30°</text>
<text class="al" x="1378" y="636">α = 0°</text>
</svg>
</body></html>
